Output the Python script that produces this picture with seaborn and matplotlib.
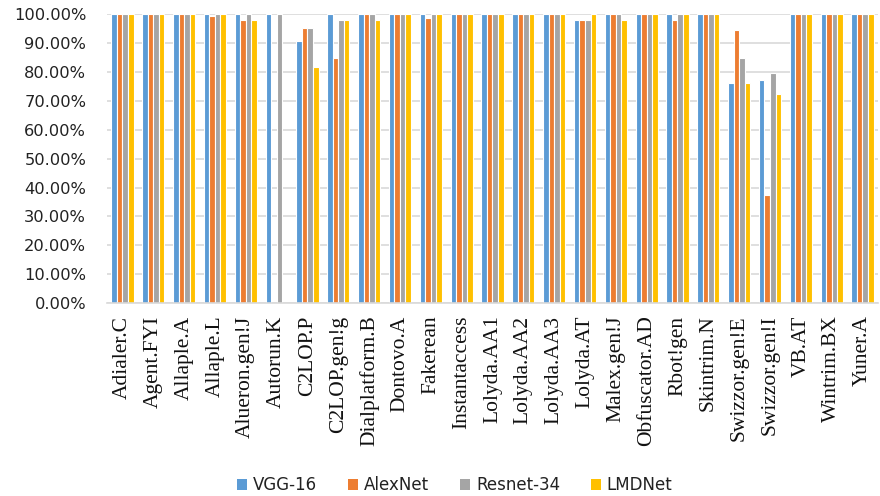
import matplotlib
matplotlib.use("Agg")
import matplotlib.pyplot as plt
import matplotlib.ticker as mticker
from matplotlib.patches import Patch
import seaborn as sns
import pandas as pd

families = ["Adialer.C", "Agent.FYI", "Allaple.A", "Allaple.L", "Alueron.gen!J",
            "Autorun.K", "C2LOP.P", "C2LOP.gen!g", "Dialplatform.B", "Dontovo.A",
            "Fakerean", "Instantaccess", "Lolyda.AA1", "Lolyda.AA2", "Lolyda.AA3",
            "Lolyda.AT", "Malex.gen!J", "Obfuscator.AD", "Rbot!gen", "Skintrim.N",
            "Swizzor.gen!E", "Swizzor.gen!I", "VB.AT", "Wintrim.BX", "Yuner.A"]

vgg16 = [100, 100, 100, 100, 100, 100, 90.8, 100, 100, 100, 100, 100, 100, 100, 100,
         97.9, 100, 100, 100, 100, 76.2, 77.4, 100, 100, 100]
alexnet = [100, 100, 100, 99.6, 98.2, 0, 95.3, 84.9, 100, 100, 98.9, 100, 100, 100, 100,
           97.9, 100, 100, 97.9, 100, 94.5, 37.4, 100, 100, 100]
resnet34 = [100, 100, 100, 100, 100, 100, 95.3, 98.2, 100, 100, 100, 100, 100, 100, 100,
            97.9, 100, 100, 100, 100, 85.0, 79.8, 100, 100, 100]
lmdnet = [100, 100, 100, 100, 98.2, 0, 81.7, 98.2, 98.1, 100, 100, 100, 100, 100, 100,
          100, 97.9, 100, 100, 100, 76.2, 72.3, 100, 100, 100]

models = ["VGG-16", "AlexNet", "Resnet-34", "LMDNet"]
colors = ["#5B9BD5", "#ED7D31", "#A5A5A5", "#FFC000"]

rows = []
for name, vals in zip(models, [vgg16, alexnet, resnet34, lmdnet]):
    for fam, v in zip(families, vals):
        rows.append({"family": fam, "model": name, "acc": v / 100.0})
df = pd.DataFrame(rows)

sns.set_theme(style="white")
plt.rcParams["font.family"] = ["DejaVu Sans"]
fig = plt.figure(figsize=(8.8, 4.96), dpi=100)
ax = fig.add_axes([0.1216, 0.389, 0.876, 0.582])

sns.barplot(data=df, x="family", y="acc", hue="model", order=families,
            hue_order=models, palette=colors, width=0.72, edgecolor="white",
            linewidth=0.8, saturation=1, ax=ax, legend=False)

ax.set_ylim(0, 1.0)
ax.set_xlim(-0.5, len(families) - 0.5)
ax.yaxis.set_major_locator(mticker.MultipleLocator(0.1))
ax.yaxis.set_major_formatter(mticker.FuncFormatter(lambda v, p: f"{v*100:.2f}%"))
ax.grid(axis="y", color="#d9d9d9", linewidth=1.2)
ax.set_axisbelow(True)
for s in ["top", "right", "left"]:
    ax.spines[s].set_visible(False)
ax.spines["bottom"].set_color("#d9d9d9")
ax.spines["bottom"].set_linewidth(1.2)
ax.set_xlabel("")
ax.set_ylabel("")
ax.tick_params(axis="y", length=0, pad=15, labelsize=11.7, labelcolor="#222222")
ax.tick_params(axis="x", length=0, pad=9)
ax.set_xticks(range(len(families)))
ax.set_xticklabels(families, rotation=90, fontsize=15.5, fontfamily="Liberation Serif",
                   color="#111111")

handles = [Patch(facecolor=c, edgecolor="none") for c in colors]
fig.legend(handles, models, loc="lower center", bbox_to_anchor=(0.517, -0.027), ncol=4,
           frameon=False, prop={"family": "DejaVu Sans", "size": 12},
           handlelength=0.6, handleheight=0.6, columnspacing=1.85, handletextpad=0.35,
           labelcolor="#222222")

fig.savefig("out.png", dpi=100)
